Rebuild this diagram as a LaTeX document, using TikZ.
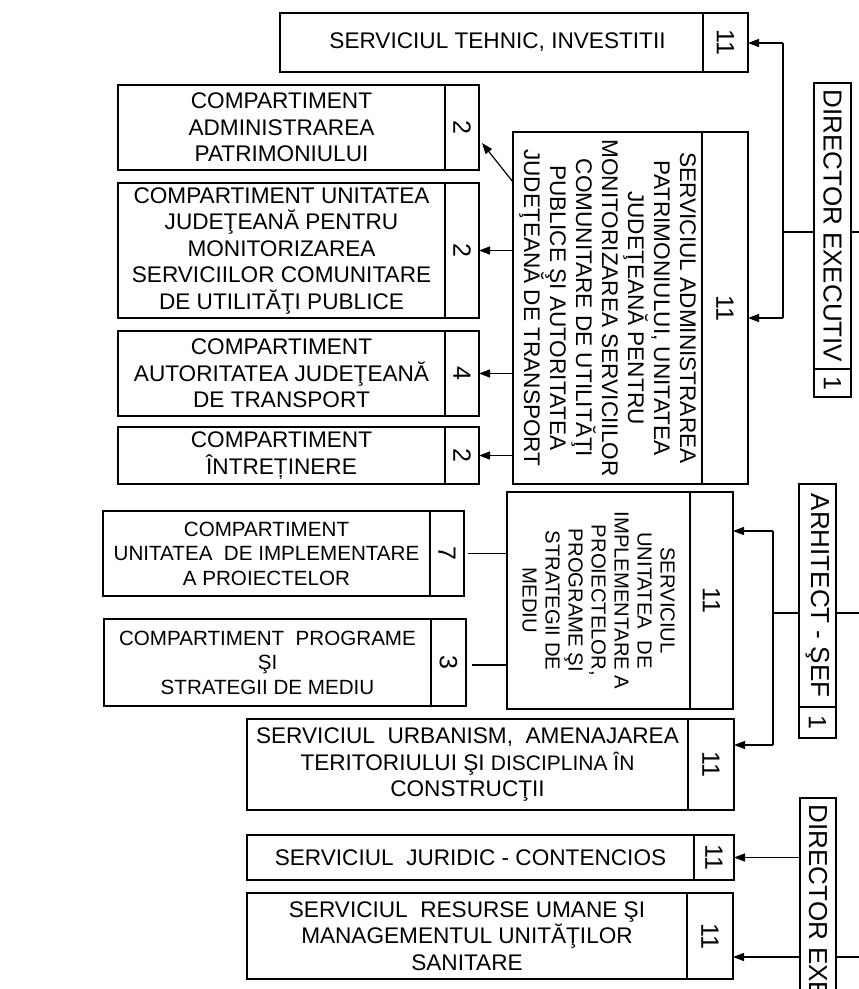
\documentclass[tikz,border=0pt]{standalone}
\usepackage{fontspec}
\setmainfont{Liberation Sans}
\usetikzlibrary{arrows.meta,calc}
\newcommand\myfs[2]{\fontsize{#1pt}{#2pt}\selectfont}
\begin{document}
\begin{tikzpicture}[x=1pt,y=-1pt,
  cell/.style={draw, line width=1.3pt, inner sep=0pt, outer sep=0pt, anchor=north west, align=center},
  htxt/.style={font=\myfs{22.6}{26.5}},
  stxt/.style={font=\myfs{20.6}{24.5}},
  ntxt/.style={font=\myfs{25}{28}},
  vtxt/.style={rotate=-90, align=center, inner sep=0pt},
  conn/.style={line width=1.2pt},
  arr/.style={line width=1.2pt, -{Triangle[length=11pt,width=8pt]}}]
\useasboundingbox (0,0) rectangle (859,989);
\clip (0,0) rectangle (859,989);

% ---- top group
\node[cell, htxt, minimum width=423pt, minimum height=59pt] (teh) at (280,13) {\hspace*{12pt}SERVICIUL TEHNIC, INVESTITII};
\node[cell, minimum width=45pt, minimum height=59pt] (tehN) at (703,13) {};
\node[vtxt, ntxt] (tehNt) at (tehN.center) {11};

\node[cell, htxt, minimum width=327pt, minimum height=85pt] (adm) at (118,85) {COMPARTIMENT\\ADMINISTRAREA\\PATRIMONIULUI};
\node[cell, minimum width=34pt, minimum height=85pt] (admN) at (445,85) {};
\node[vtxt, ntxt] (admNt) at (admN.center) {2};

\node[cell, htxt, minimum width=327pt, minimum height=135pt] (mon) at (118,183) {COMPARTIMENT UNITATEA\\JUDEŢEANĂ PENTRU\\MONITORIZAREA\\SERVICIILOR COMUNITARE\\DE UTILITĂŢI PUBLICE};
\node[cell, minimum width=34pt, minimum height=135pt] (monN) at (445,183) {};
\node[vtxt, ntxt] (monNt) at (monN.center) {2};

\node[cell, htxt, minimum width=327pt, minimum height=85pt] (aut) at (118,331) {COMPARTIMENT\\AUTORITATEA JUDEŢEANĂ\\DE TRANSPORT};
\node[cell, minimum width=34pt, minimum height=85pt] (autN) at (445,331) {};
\node[vtxt, ntxt] (autNt) at (autN.center) {4};

\node[cell, htxt, minimum width=327pt, minimum height=57pt] (intr) at (118,427) {COMPARTIMENT\\ÎNTREȚINERE};
\node[cell, minimum width=34pt, minimum height=57pt] (intN) at (445,427) {};
\node[vtxt, ntxt] (intNt) at (intN.center) {2};

\node[cell, minimum width=189pt, minimum height=352pt] (big) at (513,132) {};
\node[vtxt, font=\myfs{22.6}{26}] (bigt) at (big.center) {SERVICIUL ADMINISTRAREA\\PATRIMONIULUI, UNITATEA\\JUDEŢEANĂ PENTRU\\MONITORIZAREA SERVICIILOR\\COMUNITARE DE UTILITĂŢI\\PUBLICE ŞI AUTORITATEA\\JUDEŢEANĂ DE TRANSPORT};
\node[cell, minimum width=46pt, minimum height=352pt] (bigN) at (702,132) {};
\node[vtxt, ntxt] (bigNt) at (bigN.center) {11};

\node[cell, minimum width=37pt, minimum height=286pt] (dir1) at (814,83) {};
\node[vtxt, font=\myfs{26}{28}] (dir1t) at (dir1.center) {DIRECTOR EXECUTIV};
\node[cell, minimum width=37pt, minimum height=28pt] (dir1N) at (814,369) {};
\node[vtxt, ntxt] (dir1Nt) at (dir1N.center) {1};

% ---- middle group
\node[cell, minimum width=183pt, minimum height=217pt] (uip) at (507,492) {};
\node[vtxt, font=\myfs{20.3}{23}] (uipt) at (uip.center) {SERVICIUL\\UNITATEA\ \ DE\\IMPLEMENTARE A\\PROIECTELOR,\\PROGRAME ŞI\\STRATEGII DE\\MEDIU};
\node[cell, minimum width=43pt, minimum height=217pt] (uipN) at (690,492) {};
\node[vtxt, ntxt] (uipNt) at (uipN.center) {11};

\node[cell, minimum width=37pt, minimum height=223pt] (arh) at (799,484) {};
\node[vtxt, font=\myfs{26}{28}] (arht) at (arh.center) {ARHITECT - ŞEF};
\node[cell, minimum width=37pt, minimum height=31pt] (arhN) at (799,707) {};
\node[vtxt, ntxt] (arhNt) at (arhN.center) {1};

\node[cell, stxt, minimum width=327pt, minimum height=85pt] (c7) at (103,511) {COMPARTIMENT\\UNITATEA\ \ DE IMPLEMENTARE\\A PROIECTELOR};
\node[cell, minimum width=34pt, minimum height=85pt] (c7N) at (430,511) {};
\node[vtxt, ntxt] (c7Nt) at (c7N.center) {7};

\node[cell, stxt, minimum width=327pt, minimum height=87pt] (c3) at (104,619) {COMPARTIMENT\ \ PROGRAME\\ŞI\\STRATEGII DE MEDIU};
\node[cell, minimum width=35pt, minimum height=87pt] (c3N) at (431,619) {};
\node[vtxt, ntxt] (c3Nt) at (c3N.center) {3};

\node[cell, htxt, minimum width=441pt, minimum height=91pt] (urb) at (247,719) {SERVICIUL\ \ URBANISM,\ \ AMENAJAREA\\TERITORIULUI ŞI {\myfs{21}{26.5}DISCIPLINA ÎN}\\CONSTRUCŢII};
\node[cell, minimum width=46pt, minimum height=91pt] (urbN) at (688,719) {};
\node[vtxt, ntxt] (urbNt) at (urbN.center) {11};

% ---- bottom group
\node[cell, htxt, minimum width=447pt, minimum height=45pt] (jur) at (247,835) {SERVICIUL\ \ JURIDIC - CONTENCIOS};
\node[cell, minimum width=40pt, minimum height=45pt] (jurN) at (694,835) {};
\node[vtxt, ntxt] (jurNt) at (jurN.center) {11};

\node[cell, htxt, minimum width=440pt, minimum height=86pt] (res) at (247,893) {SERVICIUL\ \ RESURSE UMANE ŞI\\MANAGEMENTUL UNITĂŢILOR\\SANITARE};
\node[cell, minimum width=46pt, minimum height=86pt] (resN) at (687,893) {};
\node[vtxt, ntxt] (resNt) at (resN.center) {11};

\node[cell, minimum width=36pt, minimum height=286pt] (dir2) at (800,798) {};
\node[vtxt, font=\myfs{26}{28}] (dir2t) at (dir2.center) {DIRECTOR EXECUTIV};
\node[cell, minimum width=36pt, minimum height=28pt] (dir2N) at (800,1084) {};

% ---- connectors, top
\coordinate (a1) at (783,43);
\coordinate (a2) at (783,318);
\coordinate (a3) at (783,232);
\coordinate (e1) at (859,232);
\draw[conn] (a1) -- (a2);
\draw[arr] (a1) -- (tehN.east |- a1);
\draw[arr] (a2) -- (bigN.east |- a2);
\draw[conn] (a3) -- (dir1.west |- a3);
\draw[conn] (dir1.east |- e1) -- (e1);

\draw[arr] ([yshift=-50pt]big.north west) -- ([xshift=3pt,yshift=-15.5pt]admN.east);
\draw[arr] (big.west |- monN.east) -- (monN.east);
\draw[arr] (big.west |- autN.east) -- (autN.east);
\draw[arr] (big.west |- intN.east) -- (intN.east);

% ---- connectors, middle
\coordinate (b1) at (773,531);
\coordinate (b2) at (773,745);
\coordinate (b3) at (773,613);
\coordinate (e2) at (859,613);
\draw[conn] (b1) -- (b2);
\draw[arr] (b1) -- (uipN.east |- b1);
\draw[arr] (b2) -- (urbN.east |- b2);
\draw[conn] (b3) -- (arh.west |- b3);
\draw[conn] (arh.east |- e2) -- (e2);

\coordinate (c7j) at ([xshift=4pt]c7N.east);
\coordinate (c3j) at ([xshift=6pt,yshift=-2.5pt]c3N.east);
\draw[conn] (c7j) -- (uip.west |- c7j);
\draw[conn] (c3j) -- (uip.west |- c3j);

% ---- connectors, bottom
\coordinate (e3) at (859,957);
\draw[arr] (dir2.west |- jurN.east) -- (jurN.east);
\draw[arr] (dir2.west |- e3) -- (resN.east |- e3);
\draw[conn] (dir2.east |- e3) -- (e3);
\end{tikzpicture}
\end{document}
